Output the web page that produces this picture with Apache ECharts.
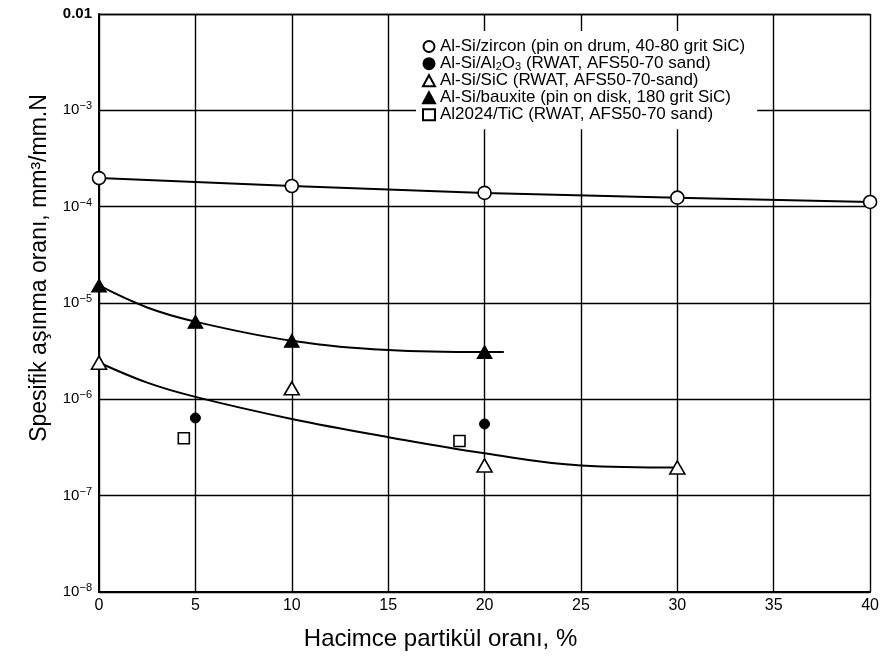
<!DOCTYPE html>
<html><head><meta charset="utf-8">
<script src="https://cdn.jsdelivr.net/npm/echarts@6/dist/echarts.min.js"></script>
<style>html,body{margin:0;padding:0;background:#fff}#c{width:882px;height:665px}</style>
</head><body><div id="c"></div>
<script>
const xTicks = [0, 5, 10, 15, 20, 25, 30, 35, 40];
const legendNames = [
  'Al-Si/zircon (pin on drum, 40-80 grit SiC)',
  'Al-Si/Al2O3 (RWAT, AFS50-70 sand)',
  'Al-Si/SiC (RWAT, AFS50-70-sand)',
  'Al-Si/bauxite (pin on disk, 180 grit SiC)',
  'Al2024/TiC (RWAT, AFS50-70 sand)'
];
const zirconX = [0, 10, 20, 30, 40];
const zirconY = [1.98e-4, 1.64e-4, 1.39e-4, 1.24e-4, 1.12e-4];
const al2o3X = [5, 20];
const al2o3Y = [6.4e-7, 5.55e-7];
const sicX = [0, 10, 20, 30];
const sicY = [2.4e-6, 1.3e-6, 2.06e-7, 1.96e-7];
const sicFitX = [0, 2.5, 5, 10, 15, 20, 25, 30];
const sicFitY = [2.41e-6, 1.49e-6, 1.06e-6, 6.25e-7, 4.05e-7, 2.75e-7, 2.06e-7, 1.96e-7];
const bauxX = [0, 5, 10, 20];
const bauxY = [1.52e-5, 6.4e-6, 4.05e-6, 3.1e-6];
const bauxFitX = [0, 2.5, 5, 10, 15, 20, 21];
const bauxFitY = [1.52e-5, 8.98e-6, 6.4e-6, 4.05e-6, 3.26e-6, 3.1e-6, 3.1e-6];
const ticX = [4.4, 18.7];
const ticY = [3.95e-7, 3.7e-7];

const pairs = (xs, ys) => xs.map((x, i) => [x, ys[i]]);
const FONT = 'Liberation Sans, Arial, sans-serif';
const open = { color: '#fff', borderColor: '#000', borderWidth: 1.6, opacity: 1 };
const filled = { color: '#000', borderColor: '#000', borderWidth: 1, opacity: 1 };

const chart = echarts.init(document.getElementById('c'), null, { renderer: 'canvas' });
chart.setOption({
  animation: false,
  backgroundColor: '#fff',
  textStyle: { fontFamily: FONT, color: '#000' },
  grid: { left: 99, right: 11, top: 14, bottom: 73 },
  legend: {
    orient: 'vertical', left: 416, top: 31,
    padding: [7, 12, 6, 6],
    backgroundColor: '#fff',
    itemWidth: 12, itemHeight: 11, itemGap: 0,
    data: legendNames,
    textStyle: {
      fontFamily: FONT, fontSize: 17, color: '#000', lineHeight: 16.6,
      rich: { sub: { fontSize: 11, lineHeight: 16.6, verticalAlign: 'bottom', padding: [6, 0, 0, 0] } }
    },
    formatter: n => n.replace('Al2O3', 'Al{sub|2}O{sub|3}')
  },
  xAxis: {
    type: 'value', min: 0, max: 40, interval: 5,
    name: 'Hacimce partikül oranı, %', nameLocation: 'middle', nameGap: 35,
    nameTextStyle: { fontFamily: FONT, fontSize: 24, color: '#000', padding: [0, 88, 0, 0] },
    axisLine: { lineStyle: { color: '#000', width: 2 } },
    axisTick: { show: false },
    axisLabel: { fontFamily: FONT, fontSize: 16, color: '#000', margin: 6,
      formatter: v => xTicks.includes(v) ? String(v) : '' },
    splitLine: { show: true, lineStyle: { color: '#000', width: 1.4 } }
  },
  yAxis: {
    type: 'log', logBase: 10, min: 1e-8, max: 0.01, interval: 1,
    name: 'Spesifik aşınma oranı, mm³/mm.N', nameLocation: 'middle', nameGap: 48, nameRotate: 90,
    nameTextStyle: { fontFamily: FONT, fontSize: 23, color: '#000', padding: [0, 0, 0, 70] },
    axisLine: { show: true, lineStyle: { color: '#000', width: 2 } },
    axisTick: { show: false },
    axisLabel: {
      fontFamily: FONT, fontSize: 15, color: '#000', margin: 7,
      formatter: v => {
        if (v >= 0.0099) return '{b|0.01}';
        const e = Math.round(Math.log10(v));
        return '10{sup|−' + (-e) + '}';
      },
      rich: { b: { fontWeight: 'bold', fontSize: 15 }, sup: { fontSize: 11, verticalAlign: 'top', padding: [0, 0, 8, 0] } }
    },
    splitLine: { show: true, lineStyle: { color: '#000', width: 1.4 } }
  },
  series: [
    { type: 'line', data: pairs(zirconX, zirconY), showSymbol: false, lineStyle: { color: '#000', width: 2 }, z: 2, silent: true },
    { type: 'line', data: pairs(bauxFitX, bauxFitY), smooth: 0.4, showSymbol: false, lineStyle: { color: '#000', width: 2 }, z: 2, silent: true },
    { type: 'line', data: pairs(sicFitX, sicFitY), smooth: 0.4, showSymbol: false, lineStyle: { color: '#000', width: 2 }, z: 2, silent: true },
    { name: legendNames[0], type: 'scatter', data: pairs(zirconX, zirconY), symbol: 'circle', symbolSize: 13, itemStyle: open, z: 5 },
    { name: legendNames[1], type: 'scatter', data: pairs(al2o3X, al2o3Y), symbol: 'circle', symbolSize: 10, itemStyle: filled, z: 5 },
    { name: legendNames[2], type: 'scatter', data: pairs(sicX, sicY), symbol: 'triangle', symbolSize: [15, 13], itemStyle: open, z: 5 },
    { name: legendNames[3], type: 'scatter', data: pairs(bauxX, bauxY), symbol: 'triangle', symbolSize: [15, 13], itemStyle: filled, z: 5 },
    { name: legendNames[4], type: 'scatter', data: pairs(ticX, ticY), symbol: 'rect', symbolSize: 11, itemStyle: open, z: 5 }
  ]
});
</script></body></html>
